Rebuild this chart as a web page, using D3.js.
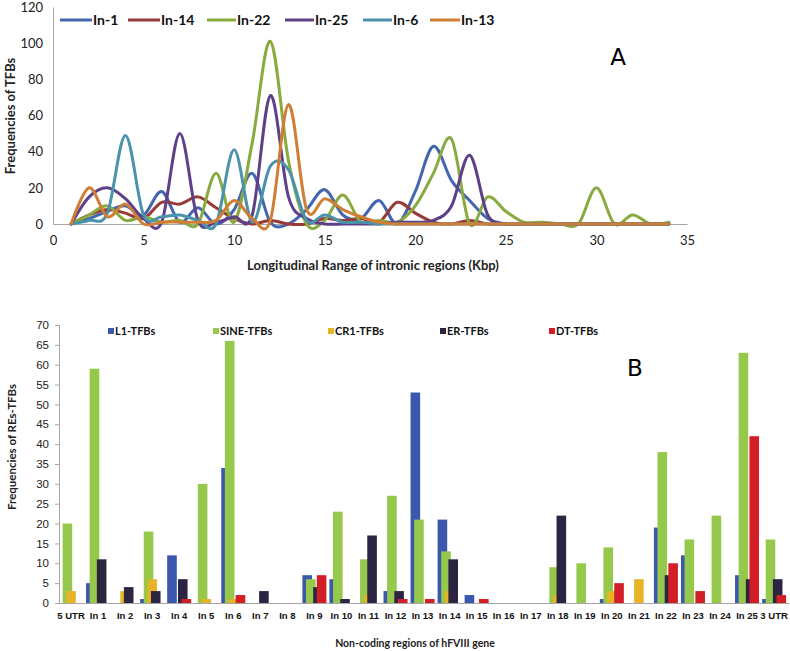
<!DOCTYPE html>
<html>
<head>
<meta charset="utf-8">
<script src="https://cdn.jsdelivr.net/npm/d3@7"></script>
<style>
  html, body { margin: 0; padding: 0; background: #fff; }
  svg { display: block; font-family: Lato, "Open Sans", sans-serif; }
</style>
</head>
<body>
<svg id="chart" width="790" height="651"></svg>
<script>
// ---------- Panel A data ----------
const kbp = [1,2,3,4,5,6,7,8,9,10,11,12,13,14,15,16,17,18,19,20,21,22,23,24,25,26,27,28,29,30,31,32,33,34];
const seriesNamesA = ["In-1","In-14","In-22","In-25","In-6","In-13"];
const in1  = [0,3,7,10,5,18,1,9,0,8,28,1,0,8,19,5,3,13,0,18,43,24,13,3,0,0,0,0,0,0,0,0,0,0];
const in14 = [0,5,8,6,3,12,11,15,9,3,0,2,0,0,3,2,3,1,12,6,1,0,2,0,0,0,0,0,0,0,0,0,0,0];
const in22 = [0,5,10,2,4,1,2,0,28,1,45,101,35,0,2,16,1,2,1,10,28,47,0,15,7,1,1,0,0,20,0,5,0,1];
const in25 = [0,15,20,14,3,1,50,2,1,4,5,71,15,3,0,0,0,0,1,1,2,10,38,5,0,0,0,0,0,0,0,0,0,0];
const in6  = [0,2,6,49,5,4,5,2,0,41,1,32,30,2,5,1,1,0,0,0,0,0,0,0,0,0,0,0,0,0,0,0,0,0];
const in13 = [0,20,4,11,0,1,1,1,2,13,3,2,66,8,14,8,4,1,0,0,0,0,0,0,0,0,0,0,0,0,0,0,0,0];
const colorsA = ["#4366ae","#983a36","#89aa3f","#5e4088","#4b92ac","#cf7e34"];
const xTicksA = [0,5,10,15,20,25,30,35];
const yTicksA = [0,20,40,60,80,100,120];

// ---------- Panel B data ----------
const regions = ["5 UTR","In 1","In 2","In 3","In 4","In 5","In 6","In 7","In 8","In 9","In 10","In 11","In 12","In 13","In 14","In 15","In 16","In 17","In 18","In 19","In 20","In 21","In 22","In 23","In 24","In 25","3 UTR"];
const seriesNamesB = ["L1-TFBs","SINE-TFBs","CR1-TFBs","ER-TFBs","DT-TFBs"];
const l1   = [0,5,0,1,12,0,34,0,0,7,6,0,3,53,21,2,0,0,0,0,1,0,19,12,0,7,1];
const sine = [20,59,0,18,0,30,66,0,0,6,23,11,27,21,13,0,0,0,9,10,14,0,38,16,22,63,16];
const cr1  = [3,0,3,6,0,1,1,0,0,0,0,2,0,0,3,0,0,0,2,0,3,6,0,0,0,0,0];
const er   = [0,11,4,3,6,0,0,3,0,4,1,17,3,0,11,0,0,0,22,0,0,0,7,0,0,6,6];
const dt   = [0,0,0,0,1,0,2,0,0,7,0,0,1,1,0,1,0,0,0,0,5,0,10,3,0,42,2];
const colorsB = ["#3b57ae","#95c84b","#e6b527","#2c2541","#d21f27"];
const yTicksB = [0,5,10,15,20,25,30,35,40,45,50,55,60,65,70];

const svg = d3.select("#chart");
const axisGray = "#a6a6a6";

// ================= Panel A =================
const xA = d3.scaleLinear().domain([0,35]).range([53,687]);
const yA = d3.scaleLinear().domain([0,120]).range([224,7]);
const gA = svg.append("g");

const xAxisA = gA.append("g").attr("transform","translate(0,224)")
  .call(d3.axisBottom(xA).tickValues(xTicksA).tickSize(0).tickPadding(12));
const yAxisA = gA.append("g").attr("transform","translate(53,0)")
  .call(d3.axisLeft(yA).tickValues(yTicksA).tickSize(0).tickPadding(10));
[xAxisA, yAxisA].forEach(a => {
  a.select(".domain").attr("stroke", axisGray).attr("stroke-width",1);
  a.selectAll("text").attr("font-size",13).attr("fill","#222").attr("font-family","Lato, 'Open Sans', sans-serif");
});

const seriesA = [in1,in14,in22,in25,in6,in13];
const lineA = d3.line().x((d,i) => xA(kbp[i])).y(d => yA(d)).curve(d3.curveCatmullRom.alpha(0));
seriesA.forEach((s,k) => {
  gA.append("path").datum(s).attr("d", lineA)
    .attr("fill","none").attr("stroke", colorsA[k]).attr("stroke-width",3)
    .attr("stroke-linejoin","round").attr("stroke-linecap","round");
});

// legend A
const legA = [[60,92],[128,160],[207,236],[285,314],[363,392],[430,460]];
seriesNamesA.forEach((n,k) => {
  gA.append("line").attr("x1",legA[k][0]).attr("x2",legA[k][1]).attr("y1",20).attr("y2",20)
    .attr("stroke",colorsA[k]).attr("stroke-width",3);
  gA.append("text").attr("x",legA[k][1]+1).attr("y",25).text(n)
    .attr("font-size",14).attr("font-weight","bold").attr("fill","#111");
});

gA.append("text").attr("x",618).attr("y",65).attr("text-anchor","middle")
  .attr("font-size",23).attr("fill","#000").attr("font-family","'DejaVu Sans', sans-serif").text("A");
gA.append("text").attr("transform","translate(15,116) rotate(-90)").attr("text-anchor","middle")
  .attr("font-size",13).attr("font-weight","bold").attr("fill","#222").text("Frequencies of TFBs");
gA.append("text").attr("x",373).attr("y",270).attr("text-anchor","middle")
  .attr("font-size",13).attr("font-weight","bold").attr("fill","#222").text("Longitudinal Range of intronic regions (Kbp)");

// ================= Panel B =================
const xB = d3.scaleBand().domain(regions).range([57.5,787.6]).padding(0);
const yB = d3.scaleLinear().domain([0,70]).range([603,325]);
const gB = svg.append("g");

const yAxisB = gB.append("g").attr("transform","translate(59,0)")
  .call(d3.axisLeft(yB).tickValues(yTicksB).tickSize(4).tickPadding(6));
yAxisB.select(".domain").attr("stroke", axisGray);
yAxisB.selectAll(".tick line").attr("stroke", axisGray);
yAxisB.selectAll("text").attr("font-size",11.5).attr("fill","#222");

const xAxisB = gB.append("g").attr("transform","translate(0,603)")
  .call(d3.axisBottom(xB).tickSize(0).tickPadding(9));
xAxisB.select(".domain").attr("stroke", axisGray).attr("d","M59,0.5H789");
xAxisB.selectAll("text").attr("font-size",9.5).attr("font-weight","bold").attr("fill","#111");

const seriesB = [l1,sine,cr1,er,dt];
const barW = 9.6, barStep = 3.6, barStart = -12;
seriesB.forEach((s,k) => {
  gB.append("g").selectAll("rect").data(s).join("rect")
    .attr("x",(d,i) => xB(regions[i]) + xB.bandwidth()/2 + barStart + barStep*k)
    .attr("width", barW)
    .attr("y", d => yB(d))
    .attr("height", d => yB(0) - yB(d))
    .attr("fill", colorsB[k]);
});

// legend B
const legB = [108,213,328,440,549];
seriesNamesB.forEach((n,k) => {
  gB.append("rect").attr("x",legB[k]).attr("y",328).attr("width",6).attr("height",6).attr("fill",colorsB[k]);
  gB.append("text").attr("x",legB[k]+7).attr("y",335).text(n)
    .attr("font-size",11).attr("font-weight","bold").attr("fill","#111");
});

gB.append("text").attr("x",635).attr("y",376).attr("text-anchor","middle")
  .attr("font-size",23).attr("fill","#000").attr("font-family","'DejaVu Sans', sans-serif").text("B");
gB.append("text").attr("transform","translate(16,447) rotate(-90)").attr("text-anchor","middle")
  .attr("font-size",11.5).attr("font-weight","bold").attr("fill","#222").text("Frequencies of REs-TFBs");
gB.append("text").attr("x",415).attr("y",647).attr("text-anchor","middle")
  .attr("font-size",10.5).attr("font-weight","bold").attr("fill","#222").text("Non-coding regions of hFVIII gene");
</script>
</body>
</html>
